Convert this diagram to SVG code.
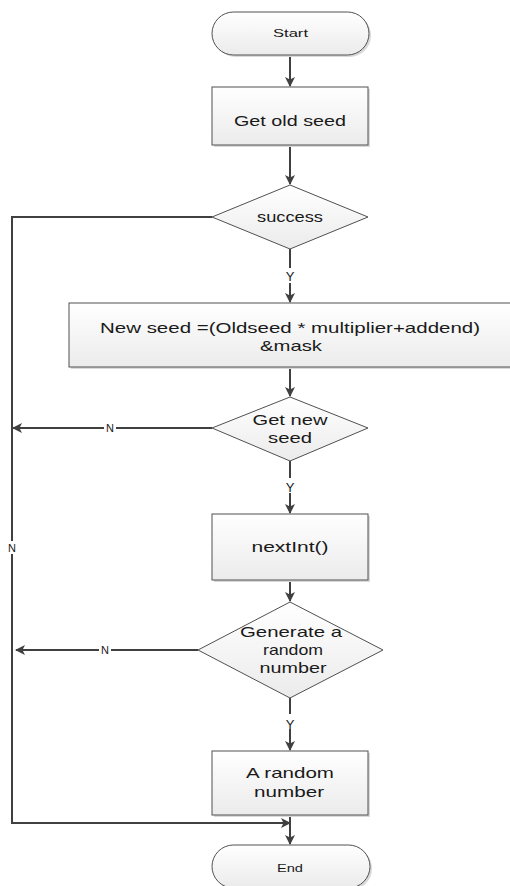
<svg xmlns="http://www.w3.org/2000/svg" width="510" height="886" viewBox="0 0 510 886">
<defs>
<linearGradient id="g" x1="0" y1="0" x2="0" y2="1">
<stop offset="0" stop-color="#ffffff"/>
<stop offset="1" stop-color="#ebebeb"/>
</linearGradient>
<marker id="ah" viewBox="0 0 10 10" refX="9" refY="5" markerWidth="5" markerHeight="5" markerUnits="strokeWidth" orient="auto">
<path d="M0,0 L10,5 L0,10 L2.5,5 Z" fill="#404040"/>
</marker>
<style>
.shape{fill:url(#g);stroke:#505050;stroke-width:1}
.shadow{fill:#d9d9d9}
.t{font-family:"Liberation Sans",Arial,sans-serif;font-size:15px;fill:#1a1a1a;text-anchor:middle}
.s{font-family:"Liberation Sans",Arial,sans-serif;font-size:11px;fill:#1a1a1a;text-anchor:middle}
.l{font-family:"Liberation Sans",Arial,sans-serif;font-size:13px;fill:#1a1a1a;text-anchor:middle}
.c{fill:none;stroke:#404040;stroke-width:2}
.a{marker-end:url(#ah)}
</style>
</defs>
<rect width="510" height="886" fill="#ffffff"/>

<g id="connectors">
<path class="c a" d="M290,55 V86"/>
<path class="c a" d="M290,145 V184"/>
<path class="c a" d="M290,249 V302"/>
<path class="c a" d="M290,367 V396"/>
<path class="c a" d="M212,428 H13"/>
<path class="c a" d="M290,461 V513"/>
<path class="c a" d="M290,580 V601"/>
<path class="c a" d="M198,650 H16"/>
<path class="c a" d="M290,698 V750"/>
<path class="c a" d="M290,815 V844"/>
<path class="c a" d="M212,217 H12 V823 H290"/>
<rect x="284" y="268" width="12" height="15" fill="#fff"/>
<text class="l" x="290" y="281">Y</text>
<rect x="284" y="478" width="12" height="15" fill="#fff"/>
<text class="l" x="290" y="492">Y</text>
<rect x="284" y="714" width="12" height="15" fill="#fff"/>
<text class="l" x="290" y="729">Y</text>
<rect x="104" y="422" width="12" height="12" fill="#fff"/>
<text class="s" x="110" y="432">N</text>
<rect x="99" y="644" width="12" height="12" fill="#fff"/>
<text class="s" x="105" y="654">N</text>
<rect x="6" y="541" width="12" height="13" fill="#fff"/>
<text class="s" x="12" y="552">N</text>
</g>

<g id="start">
<rect class="shadow" x="214" y="14" width="157" height="43" rx="21.5"/>
<rect class="shape" x="212" y="12" width="157" height="43" rx="21.5"/>
<text class="s" x="290.5" y="37" textLength="35" lengthAdjust="spacingAndGlyphs">Start</text>
</g>

<g id="get-old-seed">
<rect class="shadow" x="214" y="89" width="156" height="58"/>
<rect class="shape" x="212" y="87" width="156" height="58"/>
<text class="t" x="290" y="126" textLength="112" lengthAdjust="spacingAndGlyphs">Get old seed</text>
</g>

<g id="success">
<polygon class="shape" points="290,185 368,217 290,249 212,217"/>
<text class="t" x="290" y="222" textLength="66" lengthAdjust="spacingAndGlyphs">success</text>
</g>

<g id="new-seed">
<rect class="shadow" x="71" y="305" width="445" height="64"/>
<rect class="shape" x="69" y="303" width="445" height="64"/>
<text class="t" x="290" y="333" textLength="380" lengthAdjust="spacingAndGlyphs">New seed =(Oldseed * multiplier+addend)</text>
<text class="t" x="291" y="351" textLength="62" lengthAdjust="spacingAndGlyphs">&amp;mask</text>
</g>

<g id="get-new-seed">
<polygon class="shape" points="290,397 368,428 290,461 212,428"/>
<text class="t" x="290" y="425" textLength="75" lengthAdjust="spacingAndGlyphs">Get new</text>
<text class="t" x="290" y="443" textLength="44" lengthAdjust="spacingAndGlyphs">seed</text>
</g>

<g id="nextint">
<rect class="shadow" x="214" y="516" width="156" height="66"/>
<rect class="shape" x="212" y="514" width="156" height="66"/>
<text class="t" x="290" y="552" textLength="77" lengthAdjust="spacingAndGlyphs">nextInt()</text>
</g>

<g id="generate">
<polygon class="shape" points="290,602 383,650 290,698 198,650"/>
<text class="t" x="291" y="637" textLength="102" lengthAdjust="spacingAndGlyphs">Generate a</text>
<text class="t" x="293" y="655" textLength="60" lengthAdjust="spacingAndGlyphs">random</text>
<text class="t" x="293" y="673" textLength="67" lengthAdjust="spacingAndGlyphs">number</text>
</g>

<g id="a-random-number">
<rect class="shadow" x="214" y="753" width="156" height="64"/>
<rect class="shape" x="212" y="751" width="156" height="64"/>
<text class="t" x="290" y="778" textLength="88" lengthAdjust="spacingAndGlyphs">A random</text>
<text class="t" x="289" y="797" textLength="70" lengthAdjust="spacingAndGlyphs">number</text>
</g>

<g id="end">
<rect class="shadow" x="214" y="847" width="158" height="43" rx="21.5"/>
<rect class="shape" x="212" y="845" width="158" height="43" rx="21.5"/>
<text class="s" x="290" y="872" textLength="26" lengthAdjust="spacingAndGlyphs">End</text>
</g>
</svg>
